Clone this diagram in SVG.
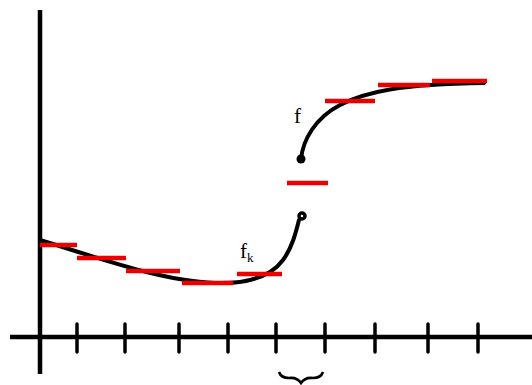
<svg xmlns="http://www.w3.org/2000/svg" width="532" height="385" viewBox="0 0 532 385">
<style>
.ax{stroke:#000;stroke-width:4.5;fill:none}
.tk{stroke:#000;stroke-width:3.5;stroke-linecap:round}
.st{stroke:#ee0000;stroke-width:4.5}
.cv{stroke:#000;stroke-width:4;fill:none;stroke-linecap:round}
.lb{font-family:"Liberation Serif",serif;fill:#000}
</style>
<rect width="532" height="385" fill="#fff"/>
<g id="axes">
<line class="ax" x1="40" y1="10" x2="40" y2="374"/>
<line class="ax" x1="10" y1="337" x2="532" y2="337"/>
</g>
<g id="ticks">
<line class="tk" x1="77" y1="324" x2="77" y2="352"/>
<line class="tk" x1="125" y1="324" x2="125" y2="352"/>
<line class="tk" x1="179" y1="324" x2="179" y2="352"/>
<line class="tk" x1="228" y1="324" x2="228" y2="352"/>
<line class="tk" x1="276" y1="324" x2="276" y2="352"/>
<line class="tk" x1="325" y1="324" x2="325" y2="352"/>
<line class="tk" x1="375" y1="324" x2="375" y2="352"/>
<line class="tk" x1="428" y1="324" x2="428" y2="352"/>
<line class="tk" x1="478" y1="324" x2="478" y2="352"/>
</g>
<g id="brace">
<path d="M279,372 Q281,378 289,378 Q297,377 301,383 Q305,377 313,378 Q321,378 323,372" fill="none" stroke="#000" stroke-width="2.6"/>
</g>
<g id="curve">
<path class="cv" d="M40,240 C90,255 160,281 215,283 C250,284 272,275 283,260 C292,248 296,232 299,220"/>
<circle cx="302" cy="216" r="3" fill="#fff" stroke="#000" stroke-width="3.5"/>
<path class="cv" d="M301,159 C303,140 315,118 340,105 C365,92 400,84 484,83"/>
<circle cx="301" cy="159" r="4.5" fill="#000"/>
</g>
<g id="steps">
<line class="st" x1="40" y1="245" x2="77" y2="245"/>
<line class="st" x1="77" y1="258" x2="126" y2="258"/>
<line class="st" x1="126" y1="271" x2="180" y2="271"/>
<line class="st" x1="182" y1="283" x2="233" y2="283"/>
<line class="st" x1="237" y1="274" x2="282" y2="274"/>
<line class="st" x1="287" y1="183" x2="328" y2="183"/>
<line class="st" x1="325" y1="101" x2="375" y2="101"/>
<line class="st" x1="378" y1="85" x2="430" y2="85"/>
<line class="st" x1="432" y1="81" x2="487" y2="81"/>
</g>
<g id="labels">
<text class="lb" x="294" y="123" font-size="21">f</text>
<text class="lb" x="240" y="258" font-size="21">f<tspan font-size="13" dy="4">k</tspan></text>
</g>
</svg>
